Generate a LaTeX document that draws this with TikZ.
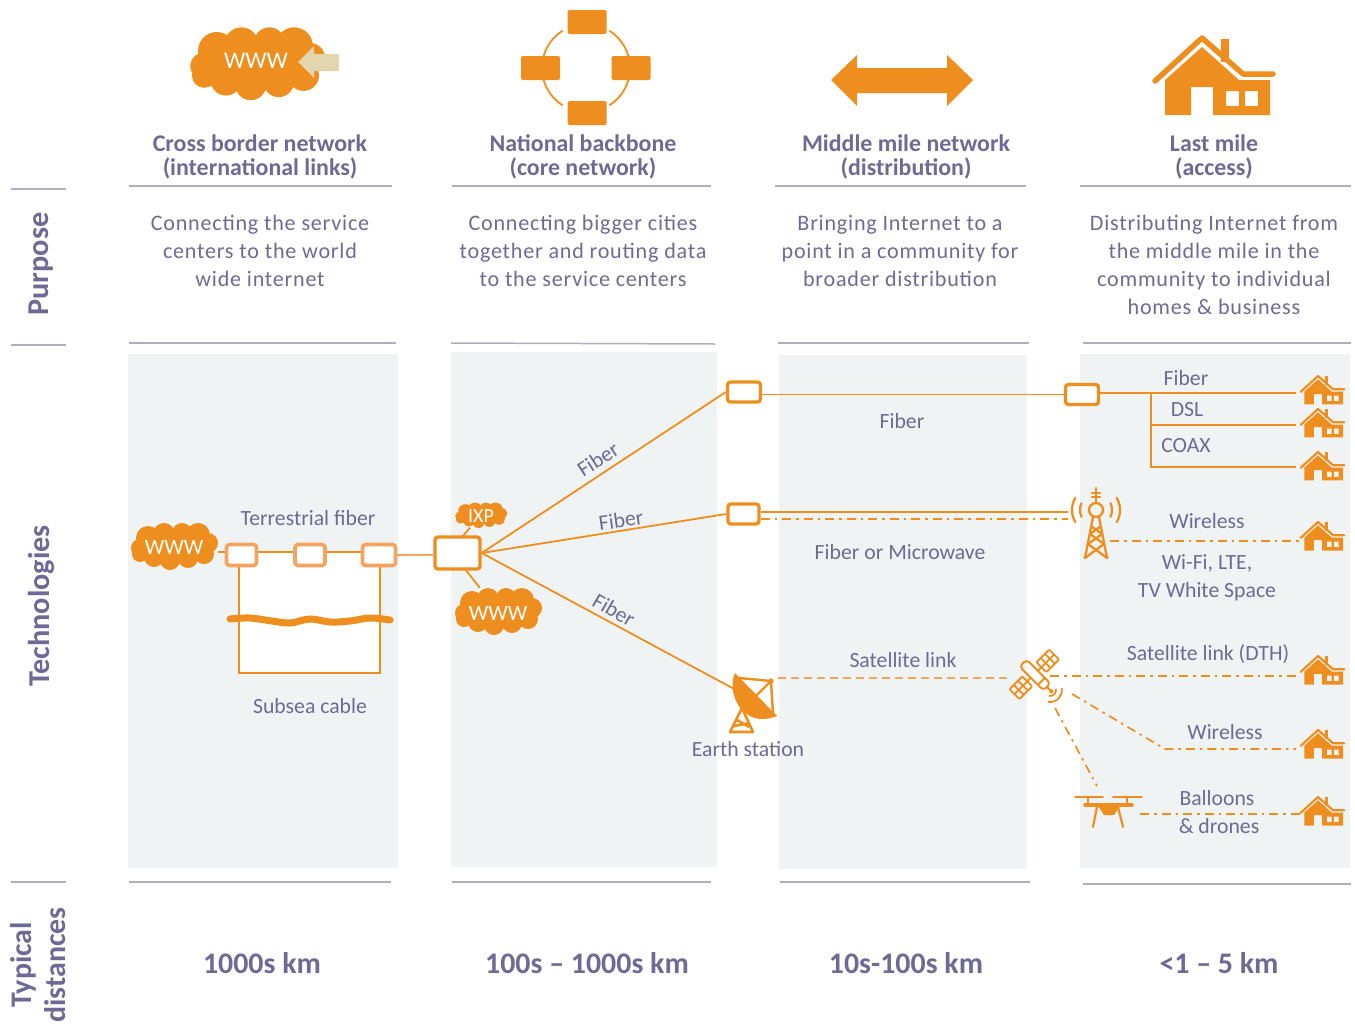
\documentclass[tikz,border=0pt]{standalone}
\usepackage{fontspec}
\setmainfont{Carlito}
\newfontfamily\spaced[LetterSpace=3.5]{Carlito}
\usetikzlibrary{calc}
\pgfdeclarelayer{bg}
\pgfsetlayers{bg,main}
\definecolor{org}{HTML}{EE8E1E}
\definecolor{lorg}{HTML}{F4A45E}
\definecolor{txt}{HTML}{6F6A95}
\definecolor{rul}{HTML}{AEAEC0}
\definecolor{pan}{HTML}{EFF3F4}
\definecolor{tan}{HTML}{E3D6AE}
\tikzset{
  x=1bp,y=-1bp,
  panel/.style={fill=pan,draw=none},
  rulel/.style={draw=rul,line width=1.5bp},
  head/.style={text=txt,font=\fontsize{24}{24}\selectfont\bfseries,align=center,inner sep=0pt},
  desc/.style={text=txt,font=\spaced\fontsize{22.2}{28}\selectfont,align=center,inner sep=0pt},
  lbl/.style={text=txt,font=\fontsize{21.8}{28}\selectfont,align=center,inner sep=0pt},
  side/.style={text=txt,font=\fontsize{30.4}{35}\selectfont\bfseries,align=center,inner sep=0pt,rotate=90},
  dist/.style={text=txt,font=\fontsize{30}{32}\selectfont\bfseries,inner sep=0pt},
  iconbox/.style={fill=org,rounded corners=1.5bp,minimum width=39bp,minimum height=24bp,inner sep=0pt},
  lrouter/.style={draw=lorg,fill=white,line width=3.6bp,rounded corners=3bp,minimum width=30bp,minimum height=21bp,inner sep=0pt},
  drouter/.style={draw=org,fill=white,line width=3.4bp,rounded corners=3bp,inner sep=0pt},
  wire/.style={draw=org,line width=1.8bp},
  lwire/.style={draw=lorg,line width=1.8bp},
  dd/.style={draw=org,line width=1.7bp,dash pattern=on 9bp off 5bp on 2.5bp off 5bp},
  dsh/.style={draw=lorg,line width=1.9bp,dash pattern=on 8bp off 5bp},
  cloudnode/.style={text=white,inner sep=0pt},
  pics/cloud/.style={code={
    \fill[org] (0,0) ellipse [x radius=34,y radius=16]
      (-34,2) circle (9) (-26,-8) circle (12) (-10,-12) circle (11) (8,-13) circle (10)
      (24,-11) circle (12) (34,-3) circle (10) (30,8) circle (10) (14,12) circle (10)
      (-4,14) circle (10) (-20,11) circle (10) (-34,8) circle (8);
  }},
  pics/house/.style={code={
    \fill[org] (19,1) rectangle (27,24);
    \draw[org,line width=#1,line cap=round,line join=round] (-47,43) -- (0,0) -- (41,36) -- (71,36);
    \fill[org,even odd rule] (-37,42) -- (0,9) -- (37,42) -- (68,42) -- (68,77) -- (11,77) -- (11,49) -- (-11,49) -- (-11,77) -- (-37,77) -- cycle
      (24,53) rectangle (37,68) (43,53) rectangle (56,68);
  }},
  pics/tower/.style={code={
    \begin{scope}[org,line width=2.3bp,line cap=round,line join=round]
      \draw (0,0) -- (0,15);
      \draw (-4,5) -- (4,5) (-4,9) -- (4,9);
      \draw (0,22) circle (7);
      \draw (-3,29) -- (-11,70) (3,29) -- (11,70);
      \draw (-5,38) -- (6,46) -- (-8,56) -- (11,70) (5,38) -- (-6,46) -- (8,56) -- (-11,70);
      \draw ($(0,22)+(155:16)$) arc[start angle=155,end angle=205,radius=16];
      \draw ($(0,22)+(150:24)$) arc[start angle=150,end angle=210,radius=24];
      \draw ($(0,22)+(25:16)$) arc[start angle=25,end angle=-25,radius=16];
      \draw ($(0,22)+(30:24)$) arc[start angle=30,end angle=-30,radius=24];
    \end{scope}
  }},
  pics/satellite/.style={code={
    \begin{scope}[org,line width=1.9bp,line join=round]
      \draw[rounded corners=4bp] (-17,-5) rectangle (17,5);
      \draw (9,-5) -- (9,5);
      \draw (-1,-5) -- (-1,-10) (-1,5) -- (-1,10);
      \foreach \s in {-1,1} {
        \draw[rounded corners=1bp] (-8,\s*10) rectangle (6,\s*28);
        \draw (-1,\s*10) -- (-1,\s*28) (-8,\s*16) -- (6,\s*16) (-8,\s*22) -- (6,\s*22);
      }
      \draw (17,0) -- (21,0);
      \fill (23,0) circle (2.2);
    \end{scope}
  }},
}
\begin{document}
\begin{tikzpicture}
\useasboundingbox (0,0) rectangle (1355,1034);
\begin{pgfonlayer}{bg}
% panels
\fill[panel] (128,354) rectangle (398,868);
\fill[panel] (451,352) rectangle (717,867);
\fill[panel] (779,355) rectangle (1027,869);
\fill[panel] (1080,354) rectangle (1350,868);
\fill[white,draw=none] (239,552) rectangle (380,673);
\end{pgfonlayer}
% rules
\foreach \a/\b/\c/\d in {11/189/66/189,11/345/66/345,11/882/66/882,
  129/186/392/186,452/186/711/186,775/186/1026/186,1080/186/1351/186,
  129/343/396/343,451/343/715/344,778/343/1029/343,1083/343/1351/343,
  129/882/391/882,452/882/711/882,780/882/1030/882,1083/884/1351/884}
  \draw[rulel] (\a,\b) -- (\c,\d);
% header icons
\pic at (257,63) [xscale=1.55,yscale=1.55] {cloud};
\node[cloudnode,font=\fontsize{24}{24}\selectfont] (wwwtop) at (256,61) {WWW};
\fill[tan] (339,54) -- (314,54) -- (314,46) -- (298,62) -- (314,78) -- (314,71) -- (339,71) -- cycle;
\coordinate (ring) at (586,68);
\foreach \a/\b in {58/15,122/165,-58/-15,-122/-165}
  \draw[wire] ($(ring)+(\a:44)$) arc[start angle=\a,end angle=\b,radius=44];
\node[iconbox] (ringt) at (587,22) {};
\node[iconbox] (ringl) at (540.5,68) {};
\node[iconbox] (ringr) at (631,68) {};
\node[iconbox] (ringb) at (587,113) {};
\fill[org] (831,80) -- (857,55) -- (857,68) -- (947,68) -- (947,55) -- (973,80) -- (947,106) -- (947,93) -- (857,93) -- (857,106) -- cycle;
\pic at (1202,38) {house=5.5bp};
% headers
\node[head] (h1) at (260,156.5) {Cross border network\\(international links)};
\node[head] (h2) at (583,156.5) {National backbone\\(core network)};
\node[head] (h3) at (906,156.5) {Middle mile network\\(distribution)};
\node[head] (h4) at (1214,156.5) {Last mile\\(access)};
% descriptions
\node[desc,anchor=north] (d1) at (260,215) {Connecting the service\\centers to the world\\wide internet};
\node[desc,anchor=north] (d2) at (583,215) {Connecting bigger cities\\together and routing data\\to the service centers};
\node[desc,anchor=north] (d3) at (900,215) {Bringing Internet to a\\point in a community for\\broader distribution};
\node[desc,anchor=north] (d4) at (1214,215) {Distributing Internet from\\the middle mile in the\\community to individual\\homes \& business};
% side labels
\node[side] (sp) at (41,264) {Purpose};
\node[side] (st) at (41,606) {Technologies};
\node[side,font=\fontsize{30}{34}\selectfont\bfseries] (sd) at (38,965) {Typical\\distances};
% distances
\node[dist] (k1) at (262,963) {1000s km};
\node[dist] (k2) at (587,963) {100s -- 1000s km};
\node[dist] (k3) at (906,963) {10s-100s km};
\node[dist] (k4) at (1219,963) {<1 -- 5 km};
% anchors for connectors
\node[minimum width=88bp,minimum height=46bp,inner sep=0pt] (cl) at (174,546) {};
\node[minimum width=53bp,minimum height=25bp,inner sep=0pt] (cx) at (481,515) {};
\node[minimum width=88bp,minimum height=46bp,inner sep=0pt] (cw) at (498,611) {};
\coordinate (earth) at (736,690);
\coordinate (earthR) at (778,678);
\coordinate (towerW) at (1068,512);
\coordinate (towerD) at (1068,519);
\coordinate (towerE) at (1110,541);
\coordinate (satW) at (1012,678);
\coordinate (satE) at (1050,676);
\coordinate (satR) at (1072,694);
\coordinate (satRk) at (1165,749);
\coordinate (satB) at (1055,708);
\coordinate (droneT) at (1097,786);
\coordinate (droneE) at (1140,814);
\coordinate (h1in) at (1296,393);
\coordinate (h2in) at (1296,425);
\coordinate (h3in) at (1296,467);
\coordinate (h4in) at (1300,541);
\coordinate (h5in) at (1300,676);
\coordinate (h6in) at (1296,749);
\coordinate (h7in) at (1300,814);
\coordinate (jn) at (1151,393);
\coordinate (subL) at (239,673);
\coordinate (subR) at (380,673);
\coordinate (bigT) at (462,537);
\coordinate (bigB) at (465,569);
% routers
\node[lrouter] (r1) at (241.5,555) {};
\node[lrouter] (r2) at (310,555) {};
\node[lrouter,minimum width=33bp] (r3) at (379,555) {};
\node[drouter,minimum width=45bp,minimum height=32bp] (big) at (457.5,553) {};
\node[drouter,minimum width=33bp,minimum height=20bp] (rt) at (744,392) {};
\node[drouter,minimum width=31bp,minimum height=20bp] (rm) at (743.5,514) {};
\node[drouter,minimum width=33bp,minimum height=20bp] (rl) at (1082,394.5) {};
\begin{pgfonlayer}{bg}
% connectors
\draw[wire] (cl.east |- 0,552) -- (r1.west |- 0,552);
\draw[wire] (r1.east |- 0,552) -- (r2.west |- 0,552);
\draw[wire] (r2.east |- 0,552) -- (r3.west |- 0,552);
\draw[lwire] (r3.east |- 0,555) -- (big.west |- 0,555);
\draw[wire] (r1.south -| subL) -- (subL) -- (subR) -- (r3.south -| subR);
\draw[wire] (bigT) -- (cx);
\draw[wire] (bigB) -- (cw);
\draw[wire] (big.east) -- (rt.west);
\draw[wire] (big.east) -- (rm.west);
\draw[wire] (big.east) -- (earth);
\draw[wire] (rt.east |- rl.west) -- (rl.west);
\draw[wire] (rl.east |- h1in) -- (h1in);
\draw[wire] (jn) |- (h3in);
\draw[wire] (jn |- h2in) -- (h2in);
\draw[wire] (rm.east |- towerW) -- (towerW);
\draw[dd] (rm.east |- towerD) -- (towerD);
\draw[dd] (towerE) -- (h4in);
\draw[dsh] (earthR) -- (satW);
\draw[dd] (satE) -- (h5in);
\draw[dd] (satR) -- (satRk) -- (h6in);
\draw[dd] (satB) -- (droneT);
\draw[dd] (droneE) -- (h7in);
\end{pgfonlayer}
% wave
\draw[org,line width=7bp,line cap=round] plot[smooth,tension=.6] coordinates {(230,619) (250,618) (272,621) (290,623) (310,619) (330,622) (350,621) (370,618) (390,620)};
% clouds
\pic at (cl) {cloud};
\node[cloudnode,font=\fontsize{22}{22}\selectfont] (wl) at (174,547) {WWW};
\pic at (cx) [xscale=.6,yscale=.54] {cloud};
\node[cloudnode,font=\fontsize{20}{20}\selectfont] (wx) at (481,516) {IXP};
\pic at (cw) {cloud};
\node[cloudnode,font=\fontsize{22}{22}\selectfont] (ww) at (498,613) {WWW};
% houses
\foreach \y in {376,409,452,522,656,730,797}
  \pic at (1318,\y) [scale=.37] {house=2.2bp};
% tower
\pic at (1096,488) {tower};
% satellite
\pic at (1035,675) [rotate=-45] {satellite};
\begin{scope}[shift={(1050,690)}]
  \draw[org,line width=1.8bp] ($(0,0)+(100:6)$) arc[start angle=100,end angle=-10,radius=6];
  \draw[org,line width=1.8bp] ($(0,0)+(100:12)$) arc[start angle=100,end angle=-10,radius=12];
\end{scope}
% earth station
\begin{scope}[org,line join=round]
  \fill (735,673) .. controls (726,692) and (742,730) .. (777,716) -- cycle;
  \draw[line width=2.4bp] (739,678) -- (771,681) -- (773,714) (771,681) -- (755,697);
  \fill (771,681) circle (2.6);
  \draw[line width=2.6bp] (742,708) -- (730,732) -- (753,732) -- cycle (734,726) -- (750,723) (749,727) -- (737,720);
\end{scope}
% drone
\begin{scope}[org,line cap=round]
  \draw[line width=1.6bp] (1075,797) -- (1103,797) (1113,797) -- (1142,797);
  \draw[line width=2.2bp] (1088,797) -- (1088,805) (1127,797) -- (1127,805);
  \draw[line width=3.5bp] (1085,805) -- (1132,805);
  \fill (1098,806) -- (1120,806) -- (1114,815) -- (1104,815) -- cycle;
  \draw[line width=2.2bp] (1097,807) -- (1093,827) (1118,807) -- (1123,827);
\end{scope}
% labels
\node[lbl] (tf) at (308,518) {Terrestrial fiber};
\node[lbl] (sc) at (310,706) {Subsea cable};
\node[lbl,rotate=33] (f1) at (598,459) {Fiber};
\node[lbl,rotate=8] (f2) at (621,520) {Fiber};
\node[lbl,rotate=-30] (f3) at (614,610) {Fiber};
\node[lbl] (es) at (748,749) {Earth station};
\node[lbl] (fb) at (902,421) {Fiber};
\node[lbl] (fm) at (900,552) {Fiber or Microwave};
\node[lbl] (sl) at (903,660) {Satellite link};
\node[lbl] (l1) at (1186,378) {Fiber};
\node[lbl] (l2) at (1187,410) {DSL};
\node[lbl] (l3) at (1186,446) {COAX};
\node[lbl] (l4) at (1207,521) {Wireless};
\node[lbl] (l5) at (1207,578) {Wi-Fi, LTE,\\TV White Space};
\node[lbl] (l6) at (1208,654) {Satellite link (DTH)};
\node[lbl] (l7) at (1225,732) {Wireless};
\node[lbl] (l8) at (1217,798) {Balloons};
\node[lbl] (l9) at (1219,826) {\& drones};
\end{tikzpicture}
\end{document}
